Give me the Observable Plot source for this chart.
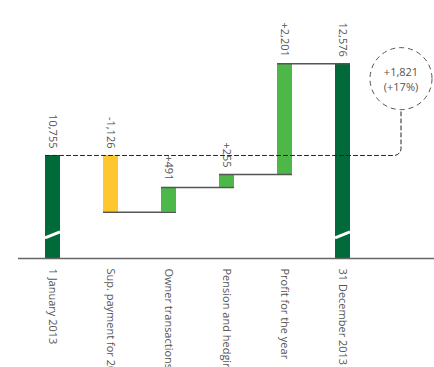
<!DOCTYPE html>
<html><head><meta charset="utf-8">
<script src="https://cdn.jsdelivr.net/npm/d3@7"></script>
<script src="https://cdn.jsdelivr.net/npm/@observablehq/plot@0.6"></script>
<style>body{margin:0;background:#fff} svg{display:block}</style>
</head><body><div id="chart"></div>
<script>
const categories = ["1 January 2013", "Sup. payment for 2012", "Owner transactions", "Pension and hedging reserves", "Profit for the year", "31 December 2013"];
const values = [10755, -1126, 491, 255, 2201, 12576];
const kinds = ["total", "change", "change", "change", "change", "total"];
const changeKey = "Δ";
const yMin = 8709, yMax = 13833;
const breakAt = 9180;

const colors = {total: "#006a3a", pos: "#4db848", neg: "#fdc82f"};
const fmt = d3.format(",");

const rows = [];
let run = 0;
categories.forEach((c, i) => {
  let y1, y2;
  if (kinds[i] === "total") { y1 = yMin; y2 = values[i]; run = values[i]; }
  else { y1 = run; y2 = run + values[i]; run = y2; }
  rows.push({cat: c, y1, y2, top: Math.max(y1, y2), end: run, kind: kinds[i], v: values[i],
    label: kinds[i] === "total" ? fmt(values[i]) : (values[i] > 0 ? "+" : "-") + fmt(Math.abs(values[i]))});
});
const conns = [];
for (let i = 1; i < rows.length - 1; i++) conns.push({x1: rows[i].cat, x2: rows[i + 1].cat, y: rows[i].end});

const startV = values[0], endV = values[values.length - 1];
const diff = endV - startV;
const mid = (startV + endV) / 2;
const pathPts = [{x: categories[0], y: startV}, {x: changeKey, y: startV}, {x: changeKey, y: mid}];
const ann = [{x: changeKey, y: mid}];

function rounded(context) {
  let pts;
  return {
    areaStart() {}, areaEnd() {},
    lineStart() { pts = []; },
    point(x, y) { pts.push([+x, +y]); },
    lineEnd() {
      const r = 7;
      context.moveTo(pts[0][0] - 7.5, pts[0][1]);
      for (let i = 1; i < pts.length - 1; i++) context.arcTo(pts[i][0], pts[i][1], pts[i + 1][0], pts[i + 1][1], r);
      context.lineTo(pts[pts.length - 1][0], pts[pts.length - 1][1]);
    }
  };
}

const chart = Plot.plot({
  width: 434, height: 367,
  marginTop: 0, marginBottom: 109, marginLeft: 18, marginRight: 0,
  style: {fontFamily: "Open Sans", fontSize: "11px", color: "#555", background: "#fff"},
  x: {type: "band", domain: [...categories, changeKey], range: [44, 409.4], paddingInner: 0.743, paddingOuter: 0,
      tickSize: 0, tickRotate: 90, tickPadding: 10, label: null, tickFormat: d => d === changeKey ? "" : d},
  y: {domain: [yMin, yMax], axis: null},
  marks: [
    Plot.barY(rows, {x: "cat", y1: "y1", y2: "y2", fill: d => d.kind === "total" ? colors.total : d.v > 0 ? colors.pos : colors.neg}),
    Plot.tickY(rows.filter(d => d.kind === "total"), {x: "cat", y: () => breakAt, stroke: "white", strokeWidth: 3, className: "brk"}),
    Plot.ruleY(conns, {x1: "x1", x2: "x2", y: "y", stroke: "#555", strokeWidth: 1.5}),
    Plot.ruleY([yMin], {stroke: "#666", strokeWidth: 1.5}),
    Plot.line(pathPts, {x: "x", y: "y", stroke: "#222", strokeWidth: 1, strokeDasharray: "4,3", curve: rounded}),
    Plot.dot(ann, {x: "x", y: "y", r: 31, dy: -31, stroke: "#555", strokeWidth: 1, strokeDasharray: "5,4", fill: "none"}),
    Plot.text(ann, {x: "x", y: "y", dy: -37, text: () => "+" + fmt(diff), fill: "#555", fontSize: 11}),
    Plot.text(ann, {x: "x", y: "y", dy: -22, text: () => "(+" + Math.round(diff / startV * 100) + "%)", fill: "#555", fontSize: 11}),
    Plot.text(rows, {x: "cat", y: "top", text: "label", rotate: 90, textAnchor: "end", dy: -7, fill: "#555", fontSize: 11})
  ]
});
d3.select(chart).selectAll(".brk line").each(function() {
  const l = d3.select(this);
  const y1 = +(l.attr("y1") || 0), y2 = +(l.attr("y2") || 0);
  l.attr("y1", y1 + 3).attr("y2", y2 - 3);
});
document.getElementById("chart").append(chart);
</script>
</body></html>
